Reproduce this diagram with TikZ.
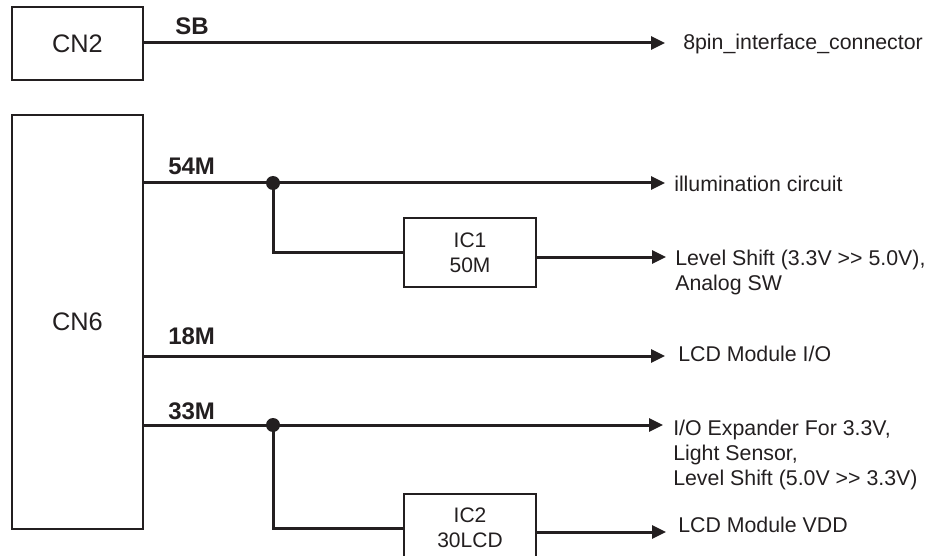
\documentclass[tikz,border=0pt]{standalone}
\usepackage{fontspec}
\setmainfont{Liberation Sans}
\usetikzlibrary{arrows.meta}
\definecolor{ink}{RGB}{35,31,32}
\tikzset{
  box/.style={draw=ink, line width=1pt, fill=white, inner sep=0pt},
  wire/.style={draw=ink, line width=2.25pt},
  feed/.style={wire, -{Triangle[length=10.5pt,width=9.75pt]}},
  joint/.style={circle, fill=ink, inner sep=0pt, minimum size=10.5pt},
  busname/.style={anchor=base west, inner sep=0pt, text=ink, font=\fontsize{18}{20}\selectfont\bfseries},
  dest/.style={anchor=base west, inner sep=0pt, align=left, text=ink, font=\fontsize{16}{18.75}\selectfont},
  chip/.style={box, minimum width=99pt, align=center, font=\fontsize{15.75}{18.75}\selectfont, text=ink},
  conn/.style={box, minimum width=98.25pt, font=\fontsize{19}{22}\selectfont, text=ink}
}
\begin{document}
\begin{tikzpicture}[x=0.75pt, y=-0.75pt]
  \clip (0,0) rectangle (932,556);

  % connectors
  \node[conn, minimum height=54.75pt] (cn2) at (77.5,43.5) {CN2};
  \node[conn, minimum height=310.5pt] (cn6) at (77.5,322) {CN6};

  % level-shift / regulator chips
  \node[chip, minimum height=51.75pt] (ic1) at (470,252.5) {IC1\\50M};
  \node[chip, minimum height=51pt] (ic2) at (470,528) {IC2\\30LCD};

  % junctions and arrow ends
  \coordinate (t0) at (665,43);
  \node[joint] (d1) at (273,183) {};
  \coordinate (t1) at (665,183);
  \coordinate (t2) at (666,257);
  \coordinate (t3) at (665,356);
  \node[joint] (d2) at (273,425) {};
  \coordinate (t4) at (663,425);
  \coordinate (t5) at (666,532);

  % wiring
  \draw[feed] (cn2.east |- t0) -- (t0);
  \draw[feed] (cn6.east |- d1) -- (d1.center) -- (t1);
  \draw[wire] (d1.center) |- (ic1.west);
  \draw[feed] (ic1.east |- t2) -- (t2);
  \draw[feed] (cn6.east |- t3) -- (t3);
  \draw[feed] (cn6.east |- d2) -- (d2.center) -- (t4);
  \draw[wire] (d2.center) |- (ic2.west);
  \draw[feed] (ic2.east |- t5) -- (t5);

  % bus names
  \node[busname] (sb) at (175,35) {SB};
  \node[busname] (b54) at (168,175) {54M};
  \node[busname] (b18) at (168,344) {18M};
  \node[busname] (b33) at (168,419) {33M};

  % destinations (multi-line nodes sit on the baseline of their last line)
  \node[dest] (o0) at (683,50) {8pin\_interface\_connector};
  \node[dest] (o1) at (674,192) {illumination circuit};
  \node[dest] (o2) at (675,290) {Level Shift (3.3V >{}> 5.0V),\\Analog SW};
  \node[dest] (o3) at (678,361) {LCD Module I/O};
  \node[dest] (o4) at (673,485) {I/O Expander For 3.3V,\\Light Sensor,\\Level Shift (5.0V >{}> 3.3V)};
  \node[dest] (o5) at (678,532) {LCD Module VDD};
\end{tikzpicture}
\end{document}
